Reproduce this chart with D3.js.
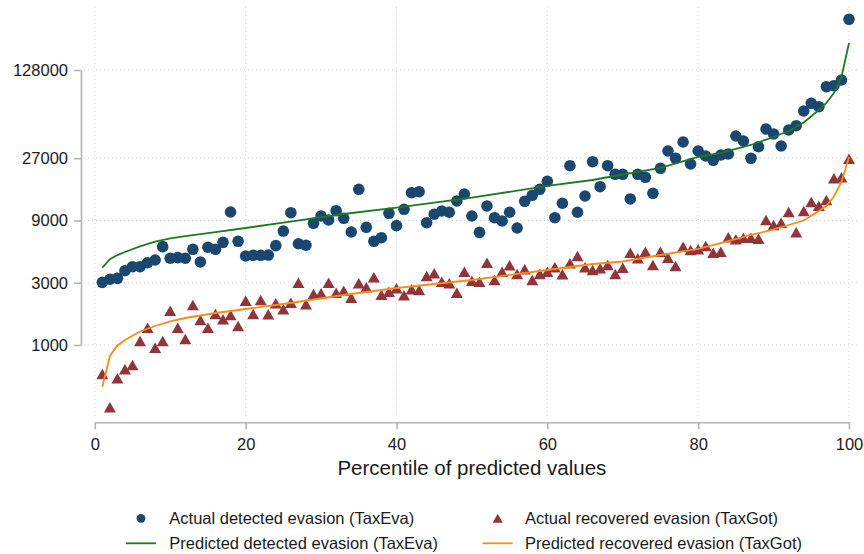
<!DOCTYPE html>
<html>
<head>
<meta charset="utf-8">
<script src="https://cdn.jsdelivr.net/npm/d3@7"></script>
<style>
  body { margin: 0; background: #fff; }
  svg { display: block; font-family: "Liberation Sans", Arial, sans-serif; }
</style>
</head>
<body>
<svg id="chart" width="864" height="554"></svg>
<script>
// Percentile bins of the predicted values (x categories)
const percentiles = d3.range(1, 101);

// Actual detected evasion (TaxEva), mean per percentile
const detectedActual = [
  3020, 3190, 3240, 3710, 3980, 3980, 4270, 4480, 5670, 4620,
  4670, 4620, 5410, 4330, 5610, 5410, 6120, 10450, 6230, 4810,
  4870, 4870, 4890, 5770, 7470, 10320, 5970, 5810, 8560, 9740,
  9080, 10690, 9350, 7340, 15600, 7980, 6230, 6640, 10210, 8210,
  10960, 14690, 14950, 8650, 10040, 10640, 10400, 12690, 14360, 9740,
  7300, 11620, 9450, 8920, 10400, 7880, 12620, 14030, 15600, 17970,
  9450, 12190, 23660, 10400, 13860, 25390, 16330, 23660, 20320, 20320,
  13150, 20320, 19280, 14540, 22590, 30670, 26960, 35940, 24380, 30670,
  28070, 26020, 28580, 29090, 39950, 36570, 26960, 33070, 45200, 41400,
  33490, 44410, 47910, 62110, 71140, 67010, 95350, 97050, 107330, 313200
];

// Actual recovered evasion (TaxGot), mean per percentile
const recoveredActual = [
  600, 333, 556, 651, 703, 1073, 1357, 953, 1073, 1831,
  1357, 1112, 2025, 1554, 1357, 1728, 1574, 1698, 1398, 2185,
  1728, 2212, 1719, 2087, 1877, 2109, 3002, 2050, 2459, 2490,
  3002, 2516, 2607, 2304, 2971, 2768, 3302, 2429, 2561, 2720,
  2404, 2672, 2640, 3378, 3543, 3056, 2971, 2516, 3645, 3110,
  3056, 4272, 3148, 3645, 4080, 3500, 3803, 3148, 3500, 3645,
  3940, 3481, 4227, 4808, 3940, 3756, 3870, 4102, 3500, 3912,
  5096, 4617, 5186, 4102, 5186, 4667, 4031, 5666, 5346, 5412,
  5736, 5096, 5186, 6688, 6457, 6643, 6643, 6527, 9077, 8310,
  8652, 10452, 7304, 10636, 12470, 11682, 12915, 18940, 19275, 26770
];

// Predicted curves, sampled at these percentiles
const predPercentiles = [
  1, 2, 3, 4, 6, 8, 10, 12, 16, 20, 25, 33, 40, 50, 60,
  66, 70, 75, 80, 83, 87, 90, 92, 94, 96, 97, 98, 99, 100
];
const detectedPredicted = [
  3910, 4540, 4890, 5160, 5690, 6190, 6550, 6840, 7340, 7880, 8680, 10090, 11310, 13450, 16540,
  18380, 20250, 22720, 27580, 29600, 34090, 39260, 43630, 50700, 63210, 71520, 85310, 113130, 206200
];
const recoveredPredicted = [
  479, 824, 991, 1092, 1269, 1398, 1514, 1610, 1759, 1887, 2062, 2416, 2734, 3148, 3756,
  4175, 4363, 4893, 5441, 6047, 6966, 7676, 8310, 8995, 10636, 11620, 13737, 17744, 27580
];

const yTickValues = [1000, 3000, 9000, 27000, 128000];
const xTickValues = [0, 20, 40, 60, 80, 100];
const xTitle = "Percentile of predicted values";

const legendItems = [
  { kind: "circle",   label: "Actual detected evasion (TaxEva)",     col: 0, row: 0 },
  { kind: "triangle", label: "Actual recovered evasion (TaxGot)",    col: 1, row: 0 },
  { kind: "lineG",    label: "Predicted detected evasion (TaxEva)",  col: 0, row: 1 },
  { kind: "lineO",    label: "Predicted recovered evasion (TaxGot)", col: 1, row: 1 }
];

const COLORS = {
  circle: "#1a476f",
  triangle: "#90353b",
  lineG: "#1f7a1f",
  lineO: "#ff8a14",
  axis: "#b4b4b4",
  grid: "#d2d2d2",
  text: "#1a1a1a"
};

const svg = d3.select("#chart");

const x = d3.scaleLinear().domain([0, 100]).range([94.8, 849]);
const y = d3.scaleLog().domain([1000, 128000]).range([345, 70]);

const plotLeft = 84, plotRight = 858, plotTop = 7, plotBottom = 421;

// Grid
const grid = svg.append("g");
grid.selectAll("line.h").data(yTickValues).join("line")
  .attr("x1", plotLeft).attr("x2", plotRight)
  .attr("y1", d => y(d)).attr("y2", d => y(d))
  .attr("stroke", COLORS.grid).attr("stroke-width", 1).attr("stroke-dasharray", "1,3");
grid.selectAll("line.v").data(xTickValues).join("line")
  .attr("x1", d => x(d)).attr("x2", d => x(d))
  .attr("y1", plotTop).attr("y2", plotBottom - 4)
  .attr("stroke", COLORS.grid).attr("stroke-width", 1).attr("stroke-dasharray", "1,3");

// Axes
const yAxis = svg.append("g").attr("transform", "translate(81,0)")
  .call(d3.axisLeft(y).tickValues(yTickValues).tickFormat(d3.format("d"))
    .tickSize(7).tickSizeOuter(0).tickPadding(6));
const xAxis = svg.append("g").attr("transform", "translate(0,422.3)")
  .call(d3.axisBottom(x).tickValues(xTickValues).tickFormat(d3.format("d"))
    .tickSize(7).tickSizeOuter(0).tickPadding(9));
[yAxis, xAxis].forEach(g => {
  g.select(".domain").attr("stroke", COLORS.axis).attr("stroke-width", 1.6);
  g.selectAll(".tick line").attr("stroke", COLORS.axis).attr("stroke-width", 1.6);
  g.selectAll(".tick text").attr("fill", COLORS.text)
    .style("font-size", "16.5px").style("font-family", "'Liberation Sans', Arial, sans-serif");
});

svg.append("text")
  .attr("x", (x(0) + x(100)) / 2).attr("y", 475)
  .attr("text-anchor", "middle").attr("fill", COLORS.text)
  .style("font-size", "20.5px")
  .text(xTitle);

// Marker shapes
function trianglePath(w, h) {
  return `M0,${-h / 2}L${w / 2},${h / 2}L${-w / 2},${h / 2}Z`;
}

// Actual points
svg.append("g").selectAll("circle").data(percentiles).join("circle")
  .attr("cx", (d) => x(d)).attr("cy", (d, i) => y(detectedActual[i]))
  .attr("r", 5.8).attr("fill", COLORS.circle);

svg.append("g").selectAll("path").data(percentiles).join("path")
  .attr("transform", (d, i) => `translate(${x(d)},${y(recoveredActual[i])})`)
  .attr("d", trianglePath(12, 10.5)).attr("fill", COLORS.triangle);

// Predicted lines
const line = d3.line().x(d => x(d[0])).y(d => y(d[1]));
svg.append("path")
  .datum(predPercentiles.map((p, i) => [p, detectedPredicted[i]]))
  .attr("d", line).attr("fill", "none")
  .attr("stroke", COLORS.lineG).attr("stroke-width", 1.8);
svg.append("path")
  .datum(predPercentiles.map((p, i) => [p, recoveredPredicted[i]]))
  .attr("d", line).attr("fill", "none")
  .attr("stroke", COLORS.lineO).attr("stroke-width", 1.8);

// Legend
const colX = [141, 497.7];
const textX = [169.3, 525];
const rowY = [518.3, 543.3];
const legend = svg.append("g");
legendItems.forEach(it => {
  const cx = colX[it.col], cy = rowY[it.row];
  if (it.kind === "circle") {
    legend.append("circle").attr("cx", cx).attr("cy", cy).attr("r", 4.4).attr("fill", COLORS.circle);
  } else if (it.kind === "triangle") {
    legend.append("path").attr("transform", `translate(${cx},${cy})`)
      .attr("d", trianglePath(10, 9)).attr("fill", COLORS.triangle);
  } else {
    legend.append("line").attr("x1", cx - 15).attr("x2", cx + 15)
      .attr("y1", cy).attr("y2", cy)
      .attr("stroke", COLORS[it.kind]).attr("stroke-width", 1.8);
  }
  legend.append("text").attr("x", textX[it.col]).attr("y", cy).attr("dy", "0.35em")
    .attr("fill", COLORS.text).style("font-size", "16.5px").text(it.label);
});
</script>
</body>
</html>
